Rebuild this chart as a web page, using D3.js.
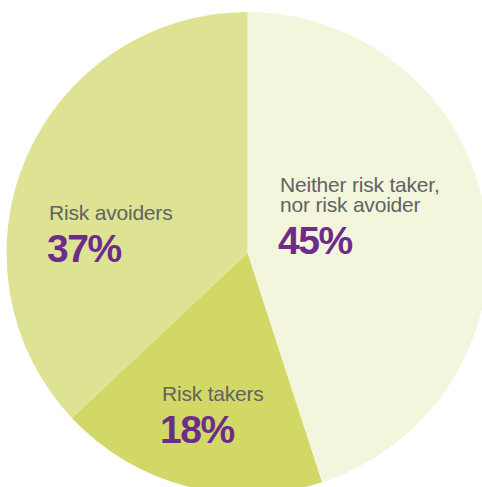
<!DOCTYPE html>
<html>
<head>
<meta charset="utf-8">
<script src="https://cdn.jsdelivr.net/npm/d3@7"></script>
<style>
  body { margin: 0; background: #fff; }
  text { font-family: "Liberation Sans", Arial, sans-serif; }
</style>
</head>
<body>
<div id="pie"></div>
<script>
// data
const categories = ["Neither risk taker,\nnor risk avoider", "Risk takers", "Risk avoiders"];
const values = [45, 18, 37];
const colors = ["#f3f6dc", "#d1d865", "#dee394"];

// where each label block starts (x, baseline of first line)
const labelPos = [[280, 192], [162, 401], [49, 220]];

const width = 482, height = 487;
const cx = 247.5, cy = 253, radius = 241;

const svg = d3.select("#pie")
    .append("svg")
    .attr("width", width)
    .attr("height", height);

const pie = d3.pie().sort(null).value(d => d)(values);
const arc = d3.arc().innerRadius(0).outerRadius(radius);

const g = svg.append("g")
    .attr("transform", `translate(${cx},${cy})`);

g.selectAll("path")
    .data(pie)
    .enter()
    .append("path")
    .attr("d", arc)
    .attr("fill", (d, i) => colors[i]);

// labels
const labels = svg.selectAll(".label")
    .data(categories)
    .enter().append("g")
    .attr("class", "label")
    .attr("transform", (d, i) => `translate(${labelPos[i][0]},${labelPos[i][1]})`);

labels.each(function(d, i) {
    const lines = d.split("\n");
    const grp = d3.select(this);
    const txt = grp.append("text")
        .style("font-size", "21px")
        .style("letter-spacing", "-0.2px")
        .style("fill", "#626262");
    lines.forEach((line, j) => {
        txt.append("tspan")
            .attr("x", 0)
            .attr("y", j * 20)
            .text(line);
    });
    grp.append("text")
        .attr("x", -2)
        .attr("y", (lines.length - 1) * 20 + 41.5)
        .style("font-size", "39px")
        .style("font-weight", "bold")
        .style("letter-spacing", "-1.5px")
        .style("fill", "#6b2c8c")
        .text(values[i] + "%");
});
</script>
</body>
</html>
